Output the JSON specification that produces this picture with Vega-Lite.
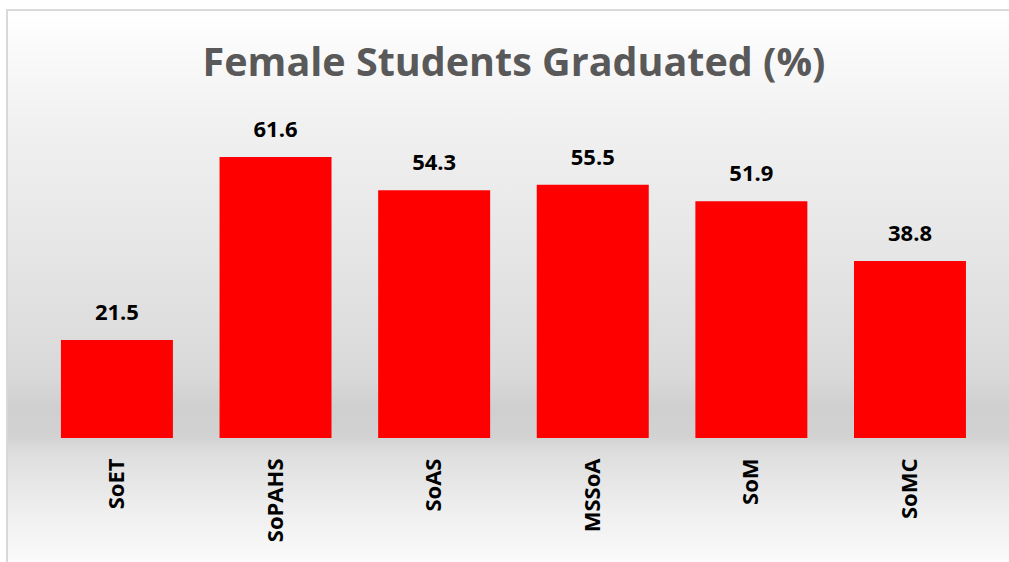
{
  "$schema": "https://vega.github.io/schema/vega-lite/v6.json",
  "width": 1004,
  "height": 554,
  "autosize": "none",
  "padding": {"left": 7, "top": 10, "right": 0, "bottom": 0},
  "background": "#ffffff",
  "title": {
    "text": "Female Students Graduated (%)",
    "font": "Open Sans",
    "fontSize": 39.5,
    "fontWeight": "bold",
    "color": "#595959",
    "anchor": "middle",
    "baseline": "alphabetic",
    "offset": -105,
    "dx": 5
  },
  "data": {
    "values": [
      {"school": "SoET", "pct": 21.5},
      {"school": "SoPAHS", "pct": 61.6},
      {"school": "SoAS", "pct": 54.3},
      {"school": "MSSoA", "pct": 55.5},
      {"school": "SoM", "pct": 51.9},
      {"school": "SoMC", "pct": 38.8}
    ]
  },
  "encoding": {
    "x": {
      "field": "school",
      "type": "nominal",
      "sort": null,
      "scale": {"paddingInner": 0.294, "paddingOuter": 0.312, "align": 0.545},
      "axis": {
        "title": null,
        "domain": false,
        "ticks": false,
        "tickSize": 0,
        "labelAngle": -90,
        "labelPadding": 20,
        "labelFont": "Open Sans",
        "labelFontSize": 22,
        "labelFontWeight": "bold",
        "labelColor": "#000000",
        "offset": -126
      }
    },
    "y": {
      "field": "pct",
      "type": "quantitative",
      "scale": {"domain": [-27.62, 93.82], "nice": false, "zero": false},
      "axis": null
    }
  },
  "layer": [
    {
      "mark": {"type": "bar", "color": "#ff0000"},
      "encoding": {"y2": {"datum": 0}}
    },
    {
      "mark": {
        "type": "text",
        "font": "Open Sans",
        "fontSize": 22,
        "fontWeight": "bold",
        "color": "#000000",
        "baseline": "alphabetic",
        "dy": -20
      },
      "encoding": {"text": {"field": "pct", "type": "quantitative", "format": ".1f"}}
    }
  ],
  "config": {
    "view": {
      "stroke": "#d9d9d9",
      "strokeWidth": 2,
      "fill": {
        "gradient": "linear",
        "x1": 0, "y1": 0, "x2": 0, "y2": 1,
        "stops": [
          {"offset": 0, "color": "#ffffff"},
          {"offset": 0.2, "color": "#f1f1f1"},
          {"offset": 0.45, "color": "#e5e5e5"},
          {"offset": 0.66, "color": "#d9d9d9"},
          {"offset": 0.72, "color": "#cfcfcf"},
          {"offset": 0.77, "color": "#d2d2d2"},
          {"offset": 0.8, "color": "#dedede"},
          {"offset": 0.9, "color": "#eeeeee"},
          {"offset": 1, "color": "#fbfbfb"}
        ]
      }
    }
  }
}
